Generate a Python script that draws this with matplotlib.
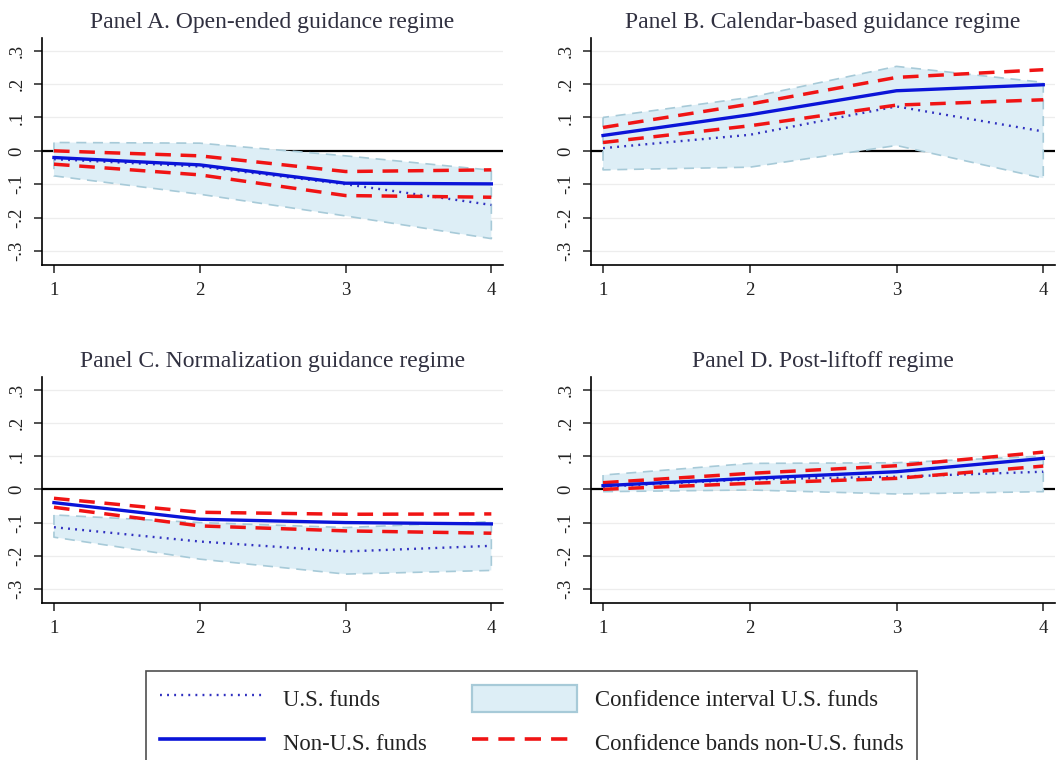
import matplotlib.pyplot as plt
from matplotlib.lines import Line2D
from matplotlib.patches import Patch

plt.rcParams['font.family'] = ['Liberation Serif', 'DejaVu Serif']

horizon = [1, 2, 3, 4]
yticks = [-0.3, -0.2, -0.1, 0.0, 0.1, 0.2, 0.3]
ytick_labels = ['-.3', '-.2', '-.1', '0', '.1', '.2', '.3']

titles = ['Panel A. Open-ended guidance regime',
          'Panel B. Calendar-based guidance regime',
          'Panel C. Normalization guidance regime',
          'Panel D. Post-liftoff regime']

# Panel A
us_a = [-0.025, -0.047, -0.100, -0.162]
ci_hi_a = [0.025, 0.023, -0.015, -0.058]
ci_lo_a = [-0.075, -0.130, -0.195, -0.263]
nonus_a = [-0.020, -0.042, -0.097, -0.099]
band_hi_a = [0.000, -0.015, -0.062, -0.057]
band_lo_a = [-0.040, -0.072, -0.134, -0.139]

# Panel B
us_b = [0.008, 0.048, 0.133, 0.058]
ci_hi_b = [0.100, 0.160, 0.253, 0.205]
ci_lo_b = [-0.057, -0.049, 0.016, -0.082]
nonus_b = [0.046, 0.108, 0.180, 0.198]
band_hi_b = [0.070, 0.140, 0.220, 0.243]
band_lo_b = [0.025, 0.075, 0.137, 0.153]

# Panel C
us_c = [-0.114, -0.157, -0.187, -0.170]
ci_hi_c = [-0.077, -0.100, -0.115, -0.097]
ci_lo_c = [-0.144, -0.210, -0.255, -0.244]
nonus_c = [-0.040, -0.090, -0.100, -0.104]
band_hi_c = [-0.027, -0.069, -0.075, -0.074]
band_lo_c = [-0.054, -0.110, -0.125, -0.132]

# Panel D
us_d = [0.008, 0.030, 0.038, 0.053]
ci_hi_d = [0.043, 0.078, 0.080, 0.100]
ci_lo_d = [-0.007, -0.002, -0.014, -0.007]
nonus_d = [0.011, 0.033, 0.053, 0.093]
band_hi_d = [0.020, 0.048, 0.071, 0.112]
band_lo_d = [0.000, 0.018, 0.033, 0.070]

panels = [
    (us_a, ci_hi_a, ci_lo_a, nonus_a, band_hi_a, band_lo_a),
    (us_b, ci_hi_b, ci_lo_b, nonus_b, band_hi_b, band_lo_b),
    (us_c, ci_hi_c, ci_lo_c, nonus_c, band_hi_c, band_lo_c),
    (us_d, ci_hi_d, ci_lo_d, nonus_d, band_hi_d, band_lo_d),
]

ci_fill = '#DDEEF6'
ci_edge = '#A7CAD8'
blue = '#0A14D8'
red = '#F01414'
dot_blue = '#3030C0'

W, H = 1057, 760
fig = plt.figure(figsize=(W / 100, H / 100), dpi=100)

# axes boxes in pixels: left, top, right, bottom
boxes = [(42, 38, 503, 265), (591, 38, 1055, 265),
         (42, 377, 503, 603), (591, 377, 1055, 603)]

for i, (box, data) in enumerate(zip(boxes, panels)):
    us, ci_hi, ci_lo, nonus, band_hi, band_lo = data
    l, t, r, b = box
    ax = fig.add_axes([l / W, 1 - b / H, (r - l) / W, (b - t) / H])

    for y in yticks:
        ax.axhline(y, color='#EDEDED', lw=0.9, zorder=0)
    ax.axhline(0, color='black', lw=1.6, zorder=1)

    ax.fill_between(horizon, ci_lo, ci_hi, facecolor=ci_fill, edgecolor=ci_edge,
                    linestyle=(0, (6, 4)), lw=1.2, zorder=2)
    ax.plot(horizon, us, color=dot_blue, lw=1.7, linestyle=(0, (0.8, 2.2)), zorder=3)
    ax.plot(horizon, band_hi, color=red, lw=2.5, dashes=(4.5, 2.8), zorder=4)
    ax.plot(horizon, band_lo, color=red, lw=2.5, dashes=(4.5, 2.8), zorder=4)
    ax.plot(horizon, nonus, color=blue, lw=2.4, zorder=5)

    ax.set_xlim(0.918, 4.08)
    ax.set_ylim(-0.342, 0.338)
    ax.set_xticks(horizon)
    ax.set_xticklabels([str(h) for h in horizon])
    ax.set_yticks(yticks)
    ax.set_yticklabels(ytick_labels, rotation=90, va='center')
    ax.tick_params(axis='both', labelsize=13.5, length=6, width=1.1,
                   color='#222222', labelcolor='#222222', pad=6)
    ax.spines['top'].set_visible(False)
    ax.spines['right'].set_visible(False)
    ax.spines['left'].set_linewidth(1.2)
    ax.spines['bottom'].set_linewidth(1.2)
    ax.set_title(titles[i], fontsize=17, color='#303040', pad=7)

handles = [
    Line2D([], [], color=dot_blue, lw=1.7, linestyle=(0, (0.8, 2.2))),
    Line2D([], [], color=blue, lw=2.6),
    Patch(facecolor=ci_fill, edgecolor=ci_edge, lw=1.6),
    Line2D([], [], color=red, lw=2.6, dashes=(4.5, 2.8)),
]
labels = ['U.S. funds', 'Non-U.S. funds',
          'Confidence interval U.S. funds', 'Confidence bands non-U.S. funds']
leg = fig.legend(handles, labels, ncol=2, loc='upper center',
                 bbox_to_anchor=(0.503, 1 - 671 / H), borderaxespad=0,
                 fontsize=16.4, frameon=True, fancybox=False, edgecolor='#222222',
                 handlelength=4.6, handleheight=1.5, handletextpad=0.8,
                 columnspacing=2.0, labelspacing=0.7, borderpad=0.6)
leg.get_frame().set_linewidth(1.2)
for txt in leg.get_texts():
    txt.set_color('#222222')

fig.savefig('out.png', dpi=100)
